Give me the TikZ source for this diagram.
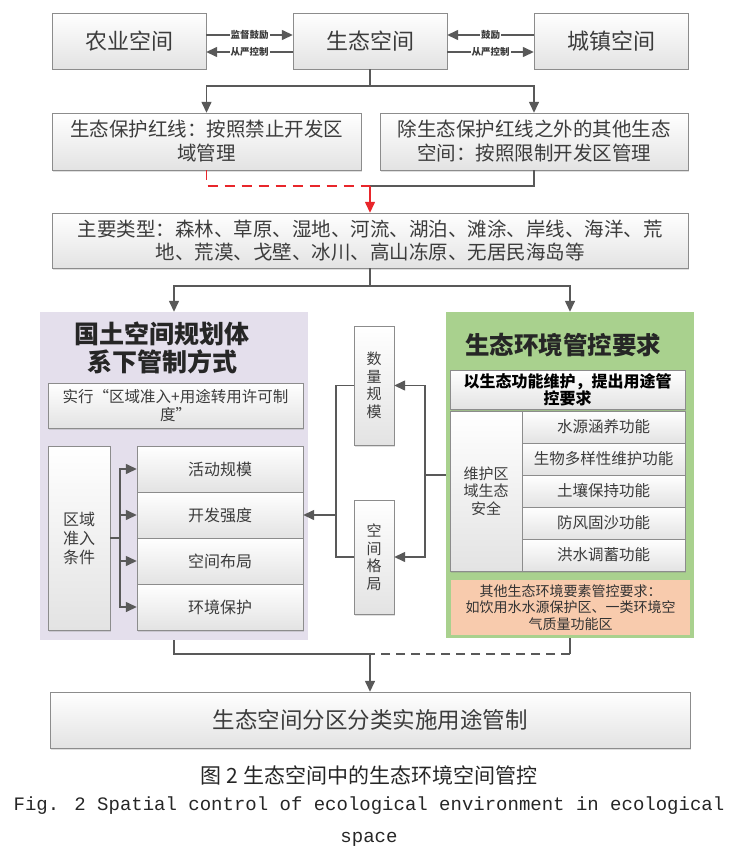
\documentclass[tikz,border=0pt]{standalone}
\usepackage{fontspec}
\setmainfont{Noto Sans CJK SC}
\newfontfamily\figmono{Liberation Mono}
\usetikzlibrary{arrows.meta,positioning,shadows}
\definecolor{linegray}{HTML}{595959}
\definecolor{txtgray}{HTML}{3C3C3C}
\definecolor{plancol}{HTML}{E4DFEC}
\definecolor{ctrlcol}{HTML}{A9D18E}
\definecolor{othercol}{HTML}{F8CBAD}
\definecolor{redline}{HTML}{E8262B}
\newcommand{\fsz}[2]{\fontsize{#1}{#2}\selectfont}

\begin{document}
\begin{tikzpicture}[x=1pt,y=-1pt,>={Triangle[length=11pt,width=10pt]},
  box/.style={draw=black!45,top color=white,bottom color=black!11,text=txtgray,align=center,inner sep=1pt,
    drop shadow={shadow xshift=1.2pt,shadow yshift=-1.5pt,opacity=.25}},
  panel/.style={inner sep=0pt},
  arrow/.style={->,line width=1.4pt,draw=linegray},
  link/.style={line width=1.4pt,draw=linegray},
  tag/.style={fill=white,inner sep=1pt,font=\fsz{9.5}{10}\bfseries,text=txtgray}]
  \useasboundingbox (0,0) rectangle (739,856);
  % top row
  \node[box,minimum width=154,minimum height=56,font=\fsz{22}{26}] (agri) at (129,41) {农业空间};
  \node[box,minimum width=154,minimum height=56,font=\fsz{22}{26}] (eco) at (370,41) {生态空间};
  \node[box,minimum width=154,minimum height=56,font=\fsz{22}{26}] (town) at (611,41) {城镇空间};
  \draw[arrow,->={Triangle[length=8pt,width=8pt]}] ([yshift=6]agri.east)--node[tag]{监督鼓励}([yshift=6]eco.west);
  \draw[arrow,->={Triangle[length=8pt,width=8pt]}] ([yshift=-11]eco.west)--node[tag]{从严控制}([yshift=-11]agri.east);
  \draw[arrow,->={Triangle[length=8pt,width=8pt]}] ([yshift=6]town.west)--node[tag]{鼓励}([yshift=6]eco.east);
  \draw[arrow,->={Triangle[length=8pt,width=8pt]}] ([yshift=-11]eco.east)--node[tag]{从严控制}([yshift=-11]town.west);
  % second and third row
  \node[box,minimum width=309,minimum height=57,font=\fsz{19.5}{24}] (red) at (206.5,141.5) {生态保护红线：按照禁止开发区\\域管理};
  \node[box,minimum width=308,minimum height=57,font=\fsz{19.5}{24}] (rest) at (534,141.5) {除生态保护红线之外的其他生态\\空间：按照限制开发区管理};
  \node[box,minimum width=636,minimum height=55,font=\fsz{19.5}{23}] (types) at (370,240.5)
    {主要类型：森林、草原、湿地、河流、湖泊、滩涂、岸线、海洋、荒\\地、荒漠、戈壁、冰川、高山冻原、无居民海岛等};
  \coordinate (split1) at (370,86);
  \draw[link] (eco)--(split1);
  \draw[arrow] (split1)-|(red);\draw[arrow] (split1)-|(rest);
  \coordinate (merge1) at (370,186);
  \draw[line width=1.4pt,draw=redline,dash pattern=on 10pt off 7pt] (red)|-(merge1);
  \draw[link] (rest)|-(merge1);
  \draw[arrow,draw=redline] (merge1)--(types);
  % two panels
  \node[panel,fill=plancol,minimum width=268,minimum height=328] (plan) at (174,476) {};
  \node[panel,fill=ctrlcol,minimum width=248,minimum height=326] (ctrl) at (570,475) {};
  \coordinate (split2) at (370,286);
  \draw[link] (types)--(split2);
  \draw[arrow] (split2)-|(plan);\draw[arrow] (split2)-|(ctrl);
  % planning panel
  \node[font=\fsz{25}{28}\bfseries,text=black!85,align=center] (plantitle) at (162,348) {国土空间规划体\\系下管制方式};
  \node[box,minimum width=255,minimum height=45,font=\fsz{15.5}{18}] (impl) at (175.5,405.5) {实行“区域准入+用途转用许可制\\度”};
  \node[box,minimum width=62,minimum height=184,font=\fsz{16}{19}] (cond) at (79,538) {区域\\准入\\条件};
  \node[box,minimum width=166,minimum height=46,font=\fsz{16}{19}] (scale) at (220,469) {活动规模};
  \node[box,minimum width=166,minimum height=46,font=\fsz{16}{19}] (intens) at (220,515) {开发强度};
  \node[box,minimum width=166,minimum height=46,font=\fsz{16}{19}] (layout) at (220,561) {空间布局};
  \node[box,minimum width=166,minimum height=46,font=\fsz{16}{19}] (protect) at (220,607) {环境保护};
  \coordinate (fork) at (120,538);
  \draw[link] (cond)--(fork);
  \draw[arrow] (fork)|-(scale);\draw[arrow] (fork)|-(intens);
  \draw[arrow] (fork)|-(layout);\draw[arrow] (fork)|-(protect);
  % middle
  \node[box,minimum width=40,minimum height=119,font=\fsz{15}{17.5}] (qty) at (374,385.5) {数\\量\\规\\模};
  \node[box,minimum width=40,minimum height=114,font=\fsz{15}{17.5}] (patt) at (374,557) {空\\间\\格\\局};
  \coordinate (fromctrl) at (425,475);
  \draw[link] (ctrl)--(fromctrl);
  \draw[arrow] (fromctrl)|-(qty);\draw[arrow] (fromctrl)|-(patt);
  \coordinate (tointens) at (336,515);
  \draw[link] (qty)-|(tointens);\draw[link] (patt)-|(tointens);
  \draw[arrow] (tointens)--(intens);
  % control panel
  \node[font=\fsz{24.5}{28}\bfseries,text=black!85] (ctrltitle) at (563,345) {生态环境管控要求};
  \node[box,minimum width=235,minimum height=39,font=\fsz{16}{17}\bfseries,text=black] (goal) at (567.5,389.5) {以生态功能维护，提出用途管\\控要求};
  \node[box,minimum width=72,minimum height=160,font=\fsz{15}{17.5}] (safety) at (486,491) {维护区\\域生态\\安全};
  \node[box,minimum width=163,minimum height=32,font=\fsz{15.5}{18}] (water) at (603.5,427) {水源涵养功能};
  \node[box,minimum width=163,minimum height=32,font=\fsz{15.5}{18}] (bio) at (603.5,459) {生物多样性维护功能};
  \node[box,minimum width=163,minimum height=32,font=\fsz{15.5}{18}] (soil) at (603.5,491) {土壤保持功能};
  \node[box,minimum width=163,minimum height=32,font=\fsz{15.5}{18}] (sand) at (603.5,523) {防风固沙功能};
  \node[box,minimum width=163,minimum height=32,font=\fsz{15.5}{18}] (flood) at (603.5,555) {洪水调蓄功能};
  \node[panel,fill=othercol,minimum width=239,minimum height=55,align=center,font=\fsz{14}{16.5},text=black!80] (others) at (570.5,607.5)
    {其他生态环境要素管控要求：\\如饮用水水源保护区、一类环境空\\气质量功能区};
  % bottom
  \node[box,minimum width=640,minimum height=56,font=\fsz{22.5}{26}] (final) at (370,720) {生态空间分区分类实施用途管制};
  \coordinate (merge2) at (370,654);
  \coordinate (ctrlbend) at (570,654);
  \draw[link] (plan)|-(merge2);
  \draw[link] (ctrl)--(ctrlbend);
  \draw[link,dash pattern=on 9pt off 6pt] (ctrlbend)--(merge2);
  \draw[arrow] (merge2)--(final);
  \node[font=\fsz{21}{24},text=black!85] (capcn) at (369,775) {图 2 生态空间中的生态环境空间管控};
  \node[font=\figmono\fsz{19}{32},text=black!85,align=center] (capen) at (369,822)
    {Fig. 2 Spatial control of ecological environment in ecological\\space};
\end{tikzpicture}
\end{document}
